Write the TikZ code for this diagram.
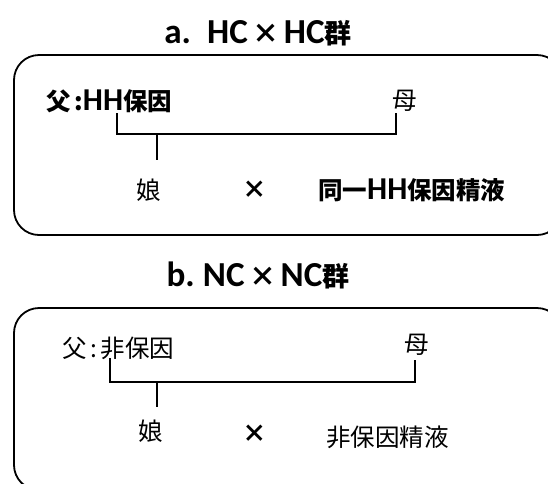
\documentclass[tikz,border=0pt]{standalone}
\usepackage{fontspec}
\setmainfont{Carlito}[Scale=1.3]
\newfontfamily\jp{Noto Sans CJK JP}
\tikzset{
  frame/.style={draw=black, line width=1.8pt, rounded corners=25pt},
  lbl/.style={inner sep=0pt, font=\jp\fontsize{24.5}{27}\selectfont},
  blbl/.style={inner sep=0pt, font=\jp\bfseries\fontsize{24.5}{27}\selectfont},
  ttl/.style={inner sep=0pt, font=\jp\bfseries\fontsize{27}{30}\selectfont},
  conn/.style={draw=black, line width=1.6pt}
}
\newcommand{\lat}[1]{{\rmfamily #1}}
\begin{document}
\begin{tikzpicture}[x=1pt,y=-1pt]
\useasboundingbox (0,0) rectangle (548,483);
% titles
\node[ttl] (ta) at (258,33) {\lat{a.}\hspace{0.6em}\lat{HC}\,×\,\lat{HC}群};
\node[ttl] (tb) at (258,275) {\lat{b.}\hspace{0.3em}\lat{NC}\,×\,\lat{NC}群};
% frames
\draw[frame] (14,55) rectangle (562,235);
\draw[frame] (14,308) rectangle (562,490);
% box a
\node[blbl, anchor=west] (fa) at (46,101) {父\hspace{0.15em}:\lat{HH}保因};
\node[lbl] (ma) at (405,101) {母};
\node[lbl] (da) at (149,190) {娘};
\node[blbl] (xa) at (255,190) {×};
\node[blbl, anchor=west] (sa) at (318,190) {同一\lat{HH}保因精液};
\coordinate (aL) at (117,113);
\coordinate (aR) at (396,113);
\coordinate (aC) at (157,134);
\coordinate (aS) at (157,160);
\draw[conn] (aL) |- (aC) -| (aR);
\draw[conn] (aC) -- (aS);
% box b
\node[lbl, anchor=west] (fb) at (62,348) {父\hspace{0.15em}:\hspace{0.15em}非保因};
\node[lbl] (mb) at (417,345) {母};
\node[lbl] (db) at (151,431) {娘};
\node[blbl] (xb) at (255,434) {×};
\node[lbl, anchor=west] (sb) at (326,437) {非保因精液};
\coordinate (bL) at (110,358);
\coordinate (bR) at (415,360);
\coordinate (bC) at (157,382);
\coordinate (bS) at (157,407);
\draw[conn] (bL) |- (bC) -| (bR);
\draw[conn] (bC) -- (bS);
\end{tikzpicture}
\end{document}
